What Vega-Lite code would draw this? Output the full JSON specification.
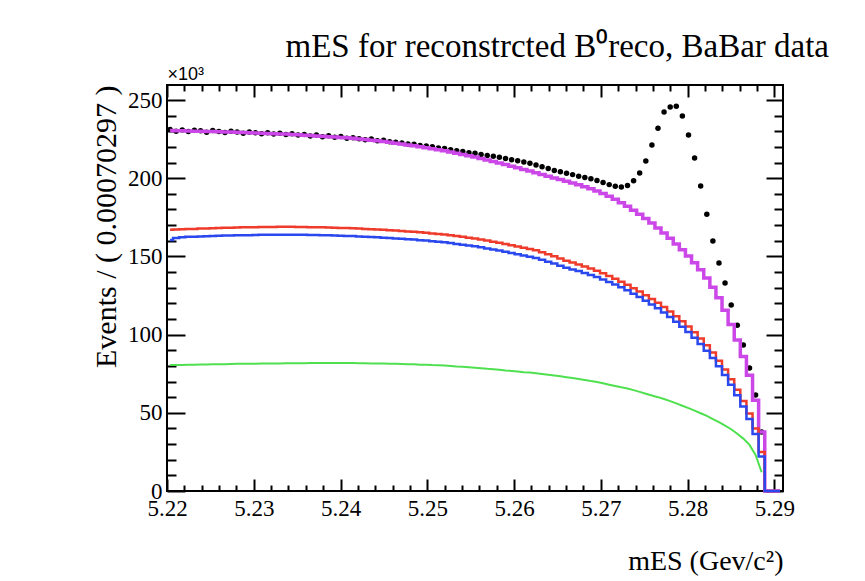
{
  "$schema": "https://vega.github.io/schema/vega-lite/v6.json",
  "autosize": {"type": "none"},
  "width": 616,
  "height": 406,
  "padding": {"left": 167, "top": 85, "right": 82, "bottom": 90},
  "background": "white",
  "title": {"text": "mES for reconstrcted B⁰reco, BaBar data", "anchor": "end", "frame": "group", "dx": 46, "dy": 5, "font": "Liberation Serif, serif", "fontSize": 33, "fontWeight": "normal", "color": "black", "offset": 6},
  "config": {
    "font": "Liberation Serif",
    "title": {"font": "Liberation Serif, serif", "fontWeight": "normal"},
    "view": {"stroke": "black", "strokeWidth": 2},
    "axis": {"domain": false, "grid": false, "tickColor": "black", "tickWidth": 2, "labelColor": "black", "titleColor": "black", "labelFlush": false, "labelOverlap": false}
  },
  "data": {"values": [
    {"mES":5.22035,"data":231.2,"total":230.5,"red":167.0,"blue":160.5,"green":80.5},
    {"mES":5.22105,"data":230.1,"total":230.4,"red":167.2,"blue":161.7,"green":80.6},
    {"mES":5.22176,"data":230.9,"total":230.3,"red":167.3,"blue":162.3,"green":80.6},
    {"mES":5.22246,"data":229.8,"total":230.2,"red":167.5,"blue":162.5,"green":80.7},
    {"mES":5.22316,"data":230.6,"total":230.1,"red":167.6,"blue":162.6,"green":80.8},
    {"mES":5.22387,"data":230.3,"total":230.0,"red":167.8,"blue":162.8,"green":80.9},
    {"mES":5.22457,"data":229.4,"total":229.9,"red":167.9,"blue":162.9,"green":80.9},
    {"mES":5.22527,"data":230.5,"total":229.8,"red":168.0,"blue":163.0,"green":81.0},
    {"mES":5.22598,"data":229.9,"total":229.7,"red":168.2,"blue":163.2,"green":81.1},
    {"mES":5.22668,"data":229.2,"total":229.6,"red":168.3,"blue":163.3,"green":81.1},
    {"mES":5.22738,"data":230.0,"total":229.5,"red":168.4,"blue":163.4,"green":81.2},
    {"mES":5.22808,"data":229.6,"total":229.4,"red":168.5,"blue":163.5,"green":81.3},
    {"mES":5.22879,"data":228.7,"total":229.2,"red":168.6,"blue":163.6,"green":81.3},
    {"mES":5.22949,"data":229.5,"total":229.1,"red":168.6,"blue":163.6,"green":81.4},
    {"mES":5.23019,"data":229.0,"total":228.9,"red":168.7,"blue":163.7,"green":81.4},
    {"mES":5.23090,"data":228.4,"total":228.8,"red":168.8,"blue":163.8,"green":81.5},
    {"mES":5.23160,"data":229.1,"total":228.6,"red":168.8,"blue":163.8,"green":81.5},
    {"mES":5.23230,"data":228.2,"total":228.5,"red":168.8,"blue":163.8,"green":81.6},
    {"mES":5.23301,"data":228.8,"total":228.3,"red":168.9,"blue":163.9,"green":81.6},
    {"mES":5.23371,"data":227.9,"total":228.2,"red":168.9,"blue":163.9,"green":81.7},
    {"mES":5.23441,"data":228.4,"total":228.0,"red":168.9,"blue":163.9,"green":81.7},
    {"mES":5.23511,"data":227.6,"total":227.8,"red":168.8,"blue":163.8,"green":81.7},
    {"mES":5.23582,"data":228.0,"total":227.5,"red":168.8,"blue":163.8,"green":81.7},
    {"mES":5.23652,"data":227.0,"total":227.3,"red":168.7,"blue":163.7,"green":81.8},
    {"mES":5.23722,"data":227.6,"total":227.0,"red":168.7,"blue":163.7,"green":81.8},
    {"mES":5.23793,"data":226.5,"total":226.8,"red":168.6,"blue":163.6,"green":81.8},
    {"mES":5.23863,"data":227.1,"total":226.5,"red":168.5,"blue":163.5,"green":81.8},
    {"mES":5.23933,"data":226.2,"total":226.3,"red":168.4,"blue":163.4,"green":81.8},
    {"mES":5.24004,"data":226.6,"total":226.0,"red":168.2,"blue":163.2,"green":81.8},
    {"mES":5.24074,"data":225.6,"total":225.8,"red":168.1,"blue":163.1,"green":81.8},
    {"mES":5.24144,"data":225.9,"total":225.5,"red":168.0,"blue":163.0,"green":81.8},
    {"mES":5.24214,"data":225.3,"total":225.1,"red":167.8,"blue":162.8,"green":81.7},
    {"mES":5.24285,"data":224.6,"total":224.7,"red":167.6,"blue":162.6,"green":81.7},
    {"mES":5.24355,"data":225.0,"total":224.3,"red":167.4,"blue":162.4,"green":81.6},
    {"mES":5.24425,"data":224.0,"total":223.9,"red":167.2,"blue":162.2,"green":81.6},
    {"mES":5.24496,"data":224.2,"total":223.5,"red":167.0,"blue":162.0,"green":81.5},
    {"mES":5.24566,"data":223.3,"total":223.0,"red":166.8,"blue":161.8,"green":81.4},
    {"mES":5.24636,"data":223.0,"total":222.4,"red":166.5,"blue":161.5,"green":81.3},
    {"mES":5.24707,"data":222.6,"total":221.9,"red":166.3,"blue":161.3,"green":81.2},
    {"mES":5.24777,"data":221.9,"total":221.3,"red":166.0,"blue":161.0,"green":81.1},
    {"mES":5.24847,"data":221.8,"total":220.8,"red":165.8,"blue":160.8,"green":81.0},
    {"mES":5.24917,"data":221.0,"total":220.1,"red":165.4,"blue":160.4,"green":80.8},
    {"mES":5.24988,"data":220.6,"total":219.5,"red":165.1,"blue":160.1,"green":80.7},
    {"mES":5.25058,"data":220.1,"total":218.8,"red":164.7,"blue":159.7,"green":80.5},
    {"mES":5.25128,"data":219.3,"total":218.2,"red":164.4,"blue":159.4,"green":80.4},
    {"mES":5.25199,"data":219.0,"total":217.5,"red":164.0,"blue":159.0,"green":80.2},
    {"mES":5.25269,"data":218.2,"total":216.7,"red":163.5,"blue":158.5,"green":79.9},
    {"mES":5.25339,"data":217.6,"total":215.9,"red":163.0,"blue":158.0,"green":79.6},
    {"mES":5.25409,"data":217.1,"total":215.1,"red":162.5,"blue":157.5,"green":79.4},
    {"mES":5.25480,"data":216.3,"total":214.3,"red":162.0,"blue":157.0,"green":79.1},
    {"mES":5.25550,"data":216.0,"total":213.5,"red":161.5,"blue":156.5,"green":78.8},
    {"mES":5.25620,"data":215.1,"total":212.6,"red":160.8,"blue":155.8,"green":78.5},
    {"mES":5.25691,"data":214.6,"total":211.6,"red":160.1,"blue":155.1,"green":78.1},
    {"mES":5.25761,"data":214.0,"total":210.7,"red":159.4,"blue":154.4,"green":77.8},
    {"mES":5.25831,"data":213.4,"total":209.7,"red":158.7,"blue":153.7,"green":77.5},
    {"mES":5.25902,"data":212.6,"total":208.8,"red":158.0,"blue":153.0,"green":77.1},
    {"mES":5.25972,"data":211.8,"total":207.7,"red":157.2,"blue":152.2,"green":76.8},
    {"mES":5.26042,"data":211.2,"total":206.7,"red":156.4,"blue":151.4,"green":76.4},
    {"mES":5.26113,"data":210.3,"total":205.6,"red":155.6,"blue":150.6,"green":76.0},
    {"mES":5.26183,"data":209.5,"total":204.6,"red":154.8,"blue":149.8,"green":75.7},
    {"mES":5.26253,"data":208.4,"total":203.5,"red":154.0,"blue":149.0,"green":75.3},
    {"mES":5.26323,"data":207.3,"total":202.4,"red":152.7,"blue":147.8,"green":74.8},
    {"mES":5.26394,"data":206.2,"total":201.3,"red":151.4,"blue":146.6,"green":74.3},
    {"mES":5.26464,"data":205.0,"total":200.2,"red":150.1,"blue":145.4,"green":73.8},
    {"mES":5.26534,"data":204.2,"total":199.1,"red":148.7,"blue":144.1,"green":73.3},
    {"mES":5.26605,"data":203.1,"total":198.0,"red":147.3,"blue":142.8,"green":72.8},
    {"mES":5.26675,"data":202.3,"total":196.9,"red":146.1,"blue":141.7,"green":72.2},
    {"mES":5.26745,"data":201.2,"total":195.8,"red":144.9,"blue":140.6,"green":71.6},
    {"mES":5.26816,"data":200.5,"total":194.6,"red":143.6,"blue":139.4,"green":71.0},
    {"mES":5.26886,"data":199.6,"total":193.3,"red":142.2,"blue":138.1,"green":70.3},
    {"mES":5.26956,"data":198.6,"total":191.9,"red":140.8,"blue":136.8,"green":69.7},
    {"mES":5.27026,"data":197.3,"total":190.3,"red":139.2,"blue":135.3,"green":68.9},
    {"mES":5.27097,"data":195.9,"total":188.5,"red":137.5,"blue":133.7,"green":68.0},
    {"mES":5.27167,"data":194.8,"total":186.5,"red":135.7,"blue":132.0,"green":67.2},
    {"mES":5.27237,"data":194.4,"total":184.3,"red":133.8,"blue":130.2,"green":66.3},
    {"mES":5.27308,"data":195.3,"total":182.0,"red":131.8,"blue":128.3,"green":65.5},
    {"mES":5.27378,"data":198.4,"total":179.5,"red":129.7,"blue":126.2,"green":64.5},
    {"mES":5.27448,"data":203.3,"total":177.0,"red":127.5,"blue":124.0,"green":63.4},
    {"mES":5.27519,"data":211.0,"total":174.2,"red":125.2,"blue":121.7,"green":62.2},
    {"mES":5.27589,"data":221.2,"total":171.3,"red":122.8,"blue":119.3,"green":61.1},
    {"mES":5.27659,"data":232.0,"total":168.2,"red":120.3,"blue":116.8,"green":60.0},
    {"mES":5.27729,"data":242.3,"total":165.0,"red":117.6,"blue":114.1,"green":58.8},
    {"mES":5.27800,"data":245.5,"total":161.6,"red":114.8,"blue":111.3,"green":57.5},
    {"mES":5.27870,"data":246.0,"total":158.0,"red":111.8,"blue":108.3,"green":56.0},
    {"mES":5.27940,"data":239.8,"total":154.2,"red":108.6,"blue":105.1,"green":54.5},
    {"mES":5.28011,"data":227.6,"total":150.2,"red":105.2,"blue":101.7,"green":53.0},
    {"mES":5.28081,"data":212.9,"total":146.0,"red":101.5,"blue":98.0,"green":51.4},
    {"mES":5.28151,"data":195.0,"total":141.4,"red":97.5,"blue":94.0,"green":49.7},
    {"mES":5.28222,"data":177.0,"total":136.2,"red":93.2,"blue":89.7,"green":48.0},
    {"mES":5.28292,"data":159.8,"total":130.3,"red":88.5,"blue":85.0,"green":46.0},
    {"mES":5.28362,"data":145.8,"total":123.5,"red":83.3,"blue":79.8,"green":44.0},
    {"mES":5.28432,"data":133.0,"total":115.5,"red":77.7,"blue":74.2,"green":41.8},
    {"mES":5.28503,"data":119.0,"total":106.5,"red":71.5,"blue":68.0,"green":39.5},
    {"mES":5.28573,"data":106.0,"total":96.5,"red":64.8,"blue":61.3,"green":36.6},
    {"mES":5.28643,"data":93.4,"total":86.0,"red":57.5,"blue":54.0,"green":33.5},
    {"mES":5.28714,"data":78.6,"total":74.0,"red":49.5,"blue":46.0,"green":29.5},
    {"mES":5.28784,"data":61.4,"total":58.0,"red":40.0,"blue":36.5,"green":23.0},
    {"mES":5.28854,"data":37.7,"total":37.7,"red":25.0,"blue":22.0,"green":12.0},
    {"mES":5.28925,"data":null,"total":0,"red":0,"blue":0,"green":null},
    {"mES":5.28995,"data":null,"total":0,"red":0,"blue":0,"green":null},
    {"mES":5.29065,"data":null,"total":0,"red":0,"blue":0,"green":null}
  ]},
  "resolve": {"axis": {"x": "independent", "y": "independent"}},
  "layer": [
    {
      "mark": {"type": "point", "filled": true, "shape": "circle", "size": 30, "color": "black", "opacity": 1},
      "encoding": {
        "x": {"field": "mES", "type": "quantitative", "scale": {"domain": [5.22, 5.291], "nice": false, "zero": false},
          "axis": {"orient": "bottom", "values": [5.22, 5.23, 5.24, 5.25, 5.26, 5.27, 5.28, 5.29], "format": ".2f", "tickSize": -12,
            "labelFont": "Liberation Serif", "labelFontSize": 23, "labelPadding": 18,
            "title": "mES (Gev/c²)", "titleAnchor": "end", "titleFont": "Liberation Serif", "titleFontSize": 28, "titleFontWeight": "normal", "titlePadding": 27}},
        "y": {"field": "data", "type": "quantitative", "scale": {"domain": [0, 259.6], "nice": false, "zero": false},
          "axis": {"orient": "left", "values": [0, 50, 100, 150, 200, 250], "tickSize": -18,
            "labelFont": "Liberation Serif", "labelFontSize": 23, "labelPadding": 23,
            "title": "Events / ( 0.00070297 )", "titleAnchor": "end", "titleFont": "Liberation Serif", "titleFontSize": 30, "titleFontWeight": "normal", "titlePadding": 6}}
      }
    },
    {
      "mark": {"type": "line", "interpolate": "step", "color": "#cc47e8", "strokeWidth": 3.5},
      "encoding": {
        "x": {"field": "mES", "type": "quantitative", "scale": {"domain": [5.22, 5.291], "nice": false, "zero": false},
          "axis": {"orient": "bottom", "values": [5.222,5.224,5.226,5.228,5.232,5.234,5.236,5.238,5.242,5.244,5.246,5.248,5.252,5.254,5.256,5.258,5.262,5.264,5.266,5.268,5.272,5.274,5.276,5.278,5.282,5.284,5.286,5.288], "tickSize": -6, "labels": false, "title": null}},
        "y": {"field": "total", "type": "quantitative", "scale": {"domain": [0, 259.6], "nice": false, "zero": false},
          "axis": {"orient": "left", "values": [10,20,30,40,60,70,80,90,110,120,130,140,160,170,180,190,210,220,230,240], "tickSize": -9, "labels": false, "title": null}}
      }
    },
    {
      "mark": {"type": "line", "interpolate": "step", "color": "#ee3b2b", "strokeWidth": 2.5},
      "encoding": {
        "x": {"field": "mES", "type": "quantitative", "scale": {"domain": [5.22, 5.291], "nice": false, "zero": false},
          "axis": {"orient": "top", "values": [5.22, 5.23, 5.24, 5.25, 5.26, 5.27, 5.28, 5.29], "tickSize": -12, "labels": false,
            "title": "×10³", "titleAnchor": "start", "titleFont": "Liberation Sans", "titleFontSize": 18, "titleFontWeight": "normal", "titlePadding": 1}},
        "y": {"field": "red", "type": "quantitative", "scale": {"domain": [0, 259.6], "nice": false, "zero": false},
          "axis": {"orient": "right", "values": [0, 50, 100, 150, 200, 250], "tickSize": -17, "labels": false, "title": null}}
      }
    },
    {
      "mark": {"type": "line", "interpolate": "step", "color": "#2b48ee", "strokeWidth": 2.5},
      "encoding": {
        "x": {"field": "mES", "type": "quantitative", "scale": {"domain": [5.22, 5.291], "nice": false, "zero": false},
          "axis": {"orient": "top", "values": [5.222,5.224,5.226,5.228,5.232,5.234,5.236,5.238,5.242,5.244,5.246,5.248,5.252,5.254,5.256,5.258,5.262,5.264,5.266,5.268,5.272,5.274,5.276,5.278,5.282,5.284,5.286,5.288], "tickSize": -6, "labels": false, "title": null}},
        "y": {"field": "blue", "type": "quantitative", "scale": {"domain": [0, 259.6], "nice": false, "zero": false},
          "axis": {"orient": "right", "values": [10,20,30,40,60,70,80,90,110,120,130,140,160,170,180,190,210,220,230,240], "tickSize": -9, "labels": false, "title": null}}
      }
    },
    {
      "transform": [{"filter": "isValid(datum.green)"}],
      "mark": {"type": "line", "interpolate": "linear", "color": "#4fe04f", "strokeWidth": 2},
      "encoding": {
        "x": {"field": "mES", "type": "quantitative", "scale": {"domain": [5.22, 5.291], "nice": false, "zero": false}, "axis": null},
        "y": {"field": "green", "type": "quantitative", "scale": {"domain": [0, 259.6], "nice": false, "zero": false}, "axis": null}
      }
    }
  ]
}
